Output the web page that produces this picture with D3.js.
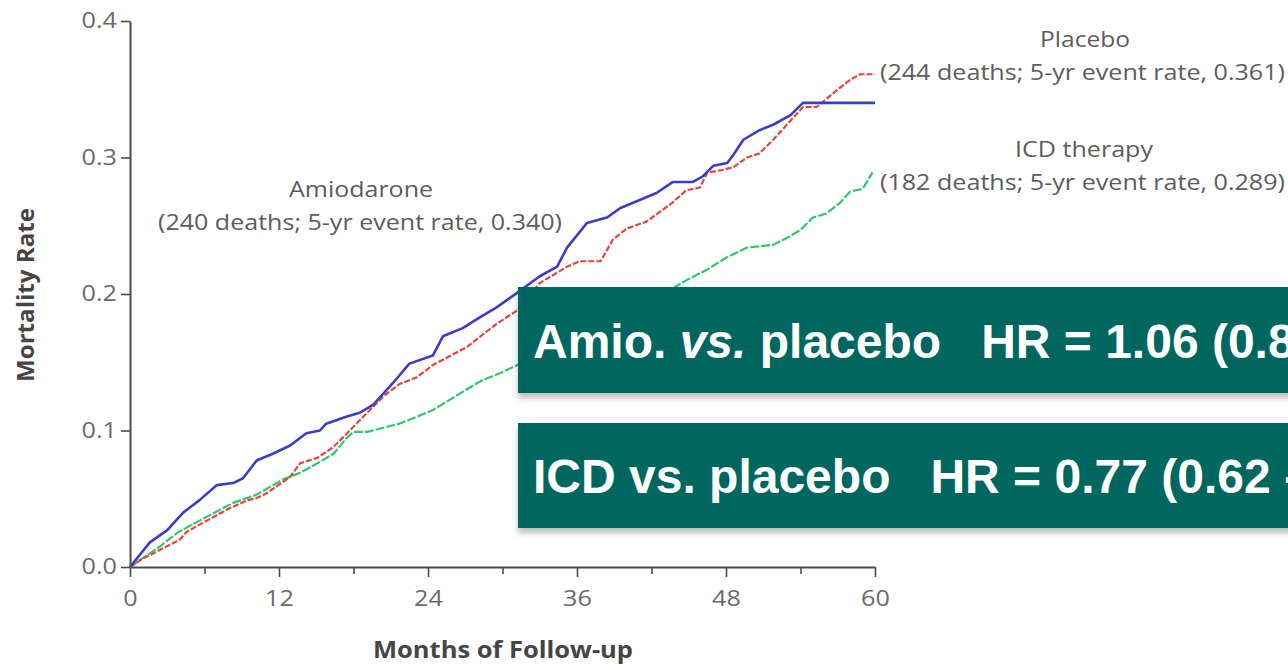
<!DOCTYPE html>
<html>
<head>
<meta charset="utf-8">
<script src="https://cdn.jsdelivr.net/npm/d3@7"></script>
<style>
  html, body { margin: 0; padding: 0; background: #fff; overflow: hidden; }
  svg { display: block; }
</style>
</head>
<body>
<svg id="chart" width="1288" height="664"></svg>
<script>
// Cumulative mortality by study arm (months of follow-up vs. mortality rate)
const amioMonths = [0, 1.6, 3.0, 4.3, 5.6, 7.0, 8.3, 9.1, 10.2, 11.5, 12.9, 14.2, 15.3, 15.8, 17.4, 18.5, 19.6, 21.2, 22.5, 24.4, 25.2, 26.8, 28.2, 29.5, 31.2, 33.0, 34.4, 35.2, 36.8, 38.4, 39.5, 41.1, 42.4, 43.7, 45.3, 46.1, 47.0, 48.1, 48.6, 49.4, 50.7, 51.8, 53.2, 54.2, 60];
const amioRate   = [0, 0.018, 0.027, 0.040, 0.049, 0.060, 0.0615, 0.065, 0.078, 0.083, 0.089, 0.098, 0.100, 0.105, 0.110, 0.113, 0.119, 0.135, 0.149, 0.155, 0.169, 0.175, 0.183, 0.190, 0.201, 0.213, 0.220, 0.234, 0.252, 0.256, 0.263, 0.269, 0.274, 0.282, 0.282, 0.286, 0.294, 0.296, 0.302, 0.313, 0.320, 0.324, 0.331, 0.340, 0.340];

const placeboMonths = [0, 1.0, 2.4, 4.0, 4.6, 6.0, 8.0, 9.5, 10.2, 11.0, 12.9, 13.7, 15.1, 16.4, 17.7, 19.1, 20.4, 21.7, 23.1, 24.4, 27.1, 29.5, 31.2, 33.0, 35.2, 36.2, 37.9, 38.9, 40.0, 41.6, 43.7, 44.8, 45.9, 46.5, 47.8, 48.6, 49.7, 50.7, 51.8, 53.2, 54.2, 55.3, 56.1, 56.9, 58.0, 58.8, 60];
const placeboRate   = [0, 0.006, 0.0125, 0.020, 0.026, 0.033, 0.043, 0.049, 0.0505, 0.054, 0.066, 0.076, 0.080, 0.088, 0.100, 0.113, 0.125, 0.134, 0.139, 0.148, 0.161, 0.178, 0.188, 0.208, 0.220, 0.224, 0.224, 0.240, 0.248, 0.253, 0.267, 0.276, 0.278, 0.289, 0.291, 0.293, 0.300, 0.303, 0.313, 0.327, 0.337, 0.337, 0.343, 0.349, 0.357, 0.361, 0.361];

const icdMonths = [0, 0.8, 2.4, 3.8, 5.6, 8.3, 10.2, 12.3, 13.7, 15.1, 16.4, 17.5, 18.0, 19.1, 20.4, 21.7, 23.1, 24.4, 27.1, 28.4, 29.8, 31.2, 33.5, 36.0, 38.5, 41.0, 43.5, 44.8, 46.5, 48.1, 49.7, 51.8, 52.9, 54.0, 55.0, 56.1, 57.2, 58.0, 59.0, 59.8];
const icdRate   = [0, 0.005, 0.015, 0.025, 0.034, 0.047, 0.053, 0.064, 0.069, 0.076, 0.083, 0.095, 0.099, 0.099, 0.102, 0.105, 0.110, 0.115, 0.130, 0.137, 0.142, 0.148, 0.158, 0.168, 0.180, 0.192, 0.203, 0.210, 0.218, 0.227, 0.234, 0.236, 0.241, 0.247, 0.256, 0.259, 0.267, 0.275, 0.277, 0.289];

const xTicks = [0, 12, 24, 36, 48, 60];
const xMinorTicks = [6, 18, 30, 42, 54];
const yTicks = [0, 0.1, 0.2, 0.3, 0.4];

const seriesNames = ["Amiodarone", "Placebo", "ICD therapy"];
const seriesNotes = ["(240 deaths; 5-yr event rate, 0.340)", "(244 deaths; 5-yr event rate, 0.361)", "(182 deaths; 5-yr event rate, 0.289)"];
const hrLabels = ["Amio. ", "vs.", " placebo   HR = 1.06 (0.86 - 1.30)"];
const hrLabel2 = "ICD vs. placebo   HR = 0.77 (0.62 - 0.96)";

const svg = d3.select("#chart");

// shadow for the hazard-ratio panels
const defs = svg.append("defs");
const f = defs.append("filter").attr("id", "shadow")
  .attr("x", "-5%").attr("y", "-20%").attr("width", "110%").attr("height", "150%");
f.append("feDropShadow").attr("dx", 0).attr("dy", 5).attr("stdDeviation", 3)
  .attr("flood-color", "#000").attr("flood-opacity", 0.26);

const x = d3.scaleLinear().domain([0, 60]).range([130, 875]);
const y = d3.scaleLinear().domain([0, 0.4]).range([567, 21]);

const stretch = 1.2;      // the axis typeface runs wide
const axisFont = "'Open Sans', 'Noto Sans', sans-serif";

// y axis
const yAxis = svg.append("g").attr("transform", `translate(${x(0)},0)`)
  .call(d3.axisLeft(y).tickValues(yTicks).tickFormat(d3.format(".1f")).tickSize(9).tickSizeOuter(0));
yAxis.select(".domain").attr("stroke", "#4a4a4a").attr("stroke-width", 2);
yAxis.selectAll(".tick line").attr("stroke", "#4a4a4a").attr("stroke-width", 1.6);
yAxis.selectAll(".tick text")
  .attr("x", -13 / stretch)
  .attr("transform", `scale(${stretch},1)`)
  .style("font-family", axisFont).style("font-size", "21px").attr("fill", "#6a6a6a");

// x axis (major + minor ticks)
const xAxis = svg.append("g").attr("transform", `translate(0,${y(0)})`)
  .call(d3.axisBottom(x).tickValues(xTicks).tickFormat(d3.format("d")).tickSize(10).tickSizeOuter(0));
xAxis.select(".domain").attr("stroke", "#4a4a4a").attr("stroke-width", 2);
xAxis.selectAll(".tick line").attr("stroke", "#4a4a4a").attr("stroke-width", 1.6);
xAxis.selectAll(".tick text")
  .attr("y", 24)
  .attr("transform", `scale(${stretch},1)`)
  .style("font-family", axisFont).style("font-size", "21px").attr("fill", "#6a6a6a");

const xMinor = svg.append("g").attr("transform", `translate(0,${y(0)})`)
  .call(d3.axisBottom(x).tickValues(xMinorTicks).tickFormat("").tickSize(7).tickSizeOuter(0));
xMinor.select(".domain").remove();
xMinor.selectAll(".tick line").attr("stroke", "#4a4a4a").attr("stroke-width", 1.6);

// axis titles
svg.append("text")
  .attr("x", 373).attr("y", 658)
  .attr("textLength", 260).attr("lengthAdjust", "spacingAndGlyphs")
  .style("font-family", axisFont).style("font-size", "23px").style("font-weight", 700)
  .attr("fill", "#454545")
  .text("Months of Follow-up");

svg.append("text")
  .attr("transform", "translate(34,295) rotate(-90)")
  .attr("x", -87).attr("y", 0)
  .attr("textLength", 174).attr("lengthAdjust", "spacingAndGlyphs")
  .style("font-family", axisFont).style("font-size", "23px").style("font-weight", 700)
  .attr("fill", "#454545")
  .text("Mortality Rate");

// curves
const line = d3.line().x(d => x(d[0])).y(d => y(d[1])).curve(d3.curveLinear);
const curves = [
  { months: icdMonths, rate: icdRate, color: "#2ec76c", dash: "9,2", width: 2.2 },
  { months: placeboMonths, rate: placeboRate, color: "#e5443e", dash: "6,2", width: 2.2 },
  { months: amioMonths, rate: amioRate, color: "#3a3ec6", dash: null, width: 2.6 }
];
curves.forEach(c => {
  const pts = c.months.map((m, i) => [m, c.rate[i]]);
  svg.append("path")
    .datum(pts)
    .attr("d", line)
    .attr("fill", "none")
    .attr("stroke", c.color)
    .attr("stroke-width", c.width)
    .attr("stroke-linejoin", "round")
    .attr("stroke-dasharray", c.dash);
});

// series annotations
const noteFont = "'Open Sans', 'Noto Sans', sans-serif";
const notes = [
  { t: seriesNames[0], x: 289, y: 197, len: 144 },
  { t: seriesNotes[0], x: 158, y: 230, len: 404 },
  { t: seriesNames[1], x: 1040, y: 47, len: 90 },
  { t: seriesNotes[1], x: 880, y: 80, len: 405 },
  { t: seriesNames[2], x: 1015, y: 157, len: 138 },
  { t: seriesNotes[2], x: 880, y: 190, len: 405 }
];
svg.append("g").selectAll("text").data(notes).join("text")
  .attr("x", d => d.x).attr("y", d => d.y)
  .attr("textLength", d => d.len).attr("lengthAdjust", "spacingAndGlyphs")
  .style("font-family", noteFont).style("font-size", "21px")
  .attr("fill", "#5c5c5c")
  .text(d => d.t);

// hazard-ratio panels
const panelFont = "'Liberation Sans', Arial, sans-serif";
const panels = [{ y: 287, h: 106, base: 358 }, { y: 423, h: 105, base: 493 }];
svg.append("g").selectAll("rect").data(panels).join("rect")
  .attr("x", 518).attr("y", d => d.y).attr("width", 800).attr("height", d => d.h)
  .attr("fill", "#016661")
  .attr("filter", "url(#shadow)");

const t1 = svg.append("text")
  .attr("x", 533).attr("y", panels[0].base)
  .style("font-family", panelFont).style("font-size", "48px").style("font-weight", 700)
  .style("white-space", "pre").attr("fill", "#fff");
t1.append("tspan").text(hrLabels[0]);
t1.append("tspan").style("font-style", "italic").text(hrLabels[1]);
t1.append("tspan").text(hrLabels[2]);

svg.append("text")
  .attr("x", 533).attr("y", panels[1].base)
  .style("font-family", panelFont).style("font-size", "48px").style("font-weight", 700)
  .style("white-space", "pre").attr("fill", "#fff")
  .text(hrLabel2);
</script>
</body>
</html>
